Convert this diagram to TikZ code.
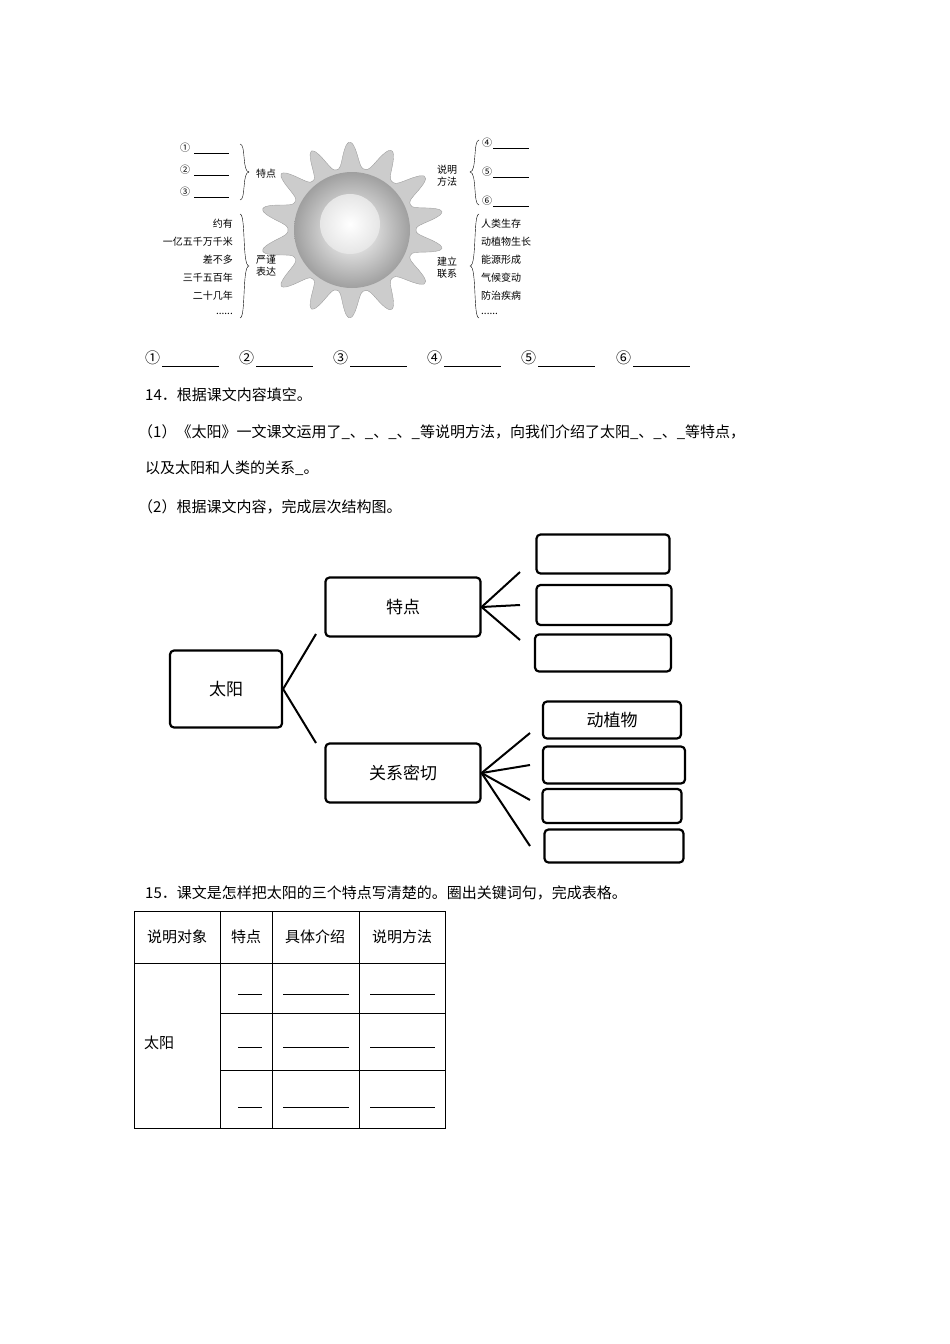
\documentclass[tikz,border=0pt]{standalone}
\usepackage{fontspec}
\setmainfont{Liberation Serif}
\newfontfamily\cjk{Noto Sans CJK SC}
\begin{document}
\begin{tikzpicture}[x=1pt,y=-1pt,
    small/.style={font=\cjk\fontsize{10}{12}\selectfont,inner sep=0pt},
    body/.style={font=\cjk\fontsize{15}{18}\selectfont,inner sep=0pt,anchor=west},
    box/.style={draw,line width=2.2pt,rounded corners=4pt,font=\cjk\fontsize{17}{20}\selectfont},
    blank/.style={line width=0.6pt},
    branch/.style={line width=2pt}]
    \useasboundingbox (0,0) rectangle (950,1344);

    % Sonne
    \fill[gray!40,draw=gray!75] plot[smooth cycle,samples=180,domain=0:358,variable=\t]
        ({352+(64+28*abs(sin(7*\t+10*sin(3*\t)))^3)*cos(\t)},{230+(62+26*abs(sin(7*\t+10*sin(3*\t)))^3)*sin(\t)});
    \shade[inner color=white,outer color=gray!75] (352,230) circle (58);
    \shade[inner color=white,outer color=white!80!gray] (350,224) circle (30);

    % links
    \foreach \n/\c/\y in {1/①/148,2/②/170,3/③/192}{
        \node[small,anchor=west] (c\n) at (180,\y) {\c};
        \draw[blank] (194,\y+5) -- (229,\y+5);}
    \draw (240,144) .. controls (246,144) and (242,172) .. (249,172) .. controls (242,172) and (246,200) .. (240,200);
    \node[small] (tedian) at (266,174) {特点};
    \foreach \t/\y in {约有/224,一亿五千万千米/242,差不多/260,三千五百年/278,二十几年/296,{......}/314}
        \node[small,anchor=east] at (233,\y) {\t};
    \draw (240,214) .. controls (246,214) and (242,266) .. (249,266) .. controls (242,266) and (246,318) .. (240,318);
    \node[small,align=center] (yanjin) at (266,266) {严谨\\表达};

    % rechts
    \node[small,align=center] (fangfa) at (447,176) {说明\\方法};
    \draw (479,140) .. controls (473,140) and (477,172) .. (470,172) .. controls (477,172) and (473,205) .. (479,205);
    \foreach \n/\c/\y in {4/④/143,5/⑤/172,6/⑥/201}{
        \node[small,anchor=west] (c\n) at (482,\y) {\c};
        \draw[blank] (493,\y+5) -- (529,\y+5);}
    \node[small,align=center] (lianxi) at (447,268) {建立\\联系};
    \draw (479,214) .. controls (473,214) and (477,266) .. (470,266) .. controls (477,266) and (473,318) .. (479,318);
    \foreach \t/\y in {人类生存/224,动植物生长/242,能源形成/260,气候变动/278,防治疾病/296,{......}/314}
        \node[small,anchor=west] at (481,\y) {\t};

    % Antworten
    \foreach \n/\c/\x in {1/①/145,2/②/239,3/③/333,4/④/427,5/⑤/521,6/⑥/616}{
        \node[body] (a\n) at (\x,358) {\c};
        \draw[blank] (\x+17,366) -- (\x+74,366);}

    % Aufgabe 14
    \node[body] (q14) at (145,395) {14．根据课文内容填空。};
    \node[body] (q14a) at (138,432) {（1）《太阳》一文课文运用了\_、\_、\_、\_等说明方法，向我们介绍了太阳\_、\_、\_等特点，};
    \node[body] (q14b) at (145,468) {以及太阳和人类的关系\_。};
    \node[body] (q14c) at (138,507) {（2）根据课文内容，完成层次结构图。};

    % Baum
    \node[box,minimum width=112pt,minimum height=77pt] (sun) at (226,689) {太阳};
    \node[box,minimum width=155pt,minimum height=59pt] (td) at (403,607) {特点};
    \node[box,minimum width=155pt,minimum height=59pt] (gx) at (403,773) {关系密切};
    \node[box,minimum width=133pt,minimum height=39pt] (t1) at (603,554) {};
    \node[box,minimum width=135pt,minimum height=40pt] (t2) at (604,605) {};
    \node[box,minimum width=136pt,minimum height=37pt] (t3) at (603,653) {};
    \node[box,minimum width=138pt,minimum height=37pt] (g1) at (612,720) {动植物};
    \node[box,minimum width=142pt,minimum height=37pt] (g2) at (614,765) {};
    \node[box,minimum width=139pt,minimum height=34pt] (g3) at (612,806) {};
    \node[box,minimum width=139pt,minimum height=33pt] (g4) at (614,846) {};
    \draw[branch] (sun.east) -- (316,634);
    \draw[branch] (sun.east) -- (316,743);
    \foreach \y in {572,605,640} \draw[branch] (td.east) -- (520,\y);
    \foreach \y in {733,765,800,846} \draw[branch] (gx.east) -- (530,\y);

    % Aufgabe 15
    \node[body] (q15) at (145,893) {15．课文是怎样把太阳的三个特点写清楚的。圈出关键词句，完成表格。};
    \draw[line width=0.7pt] (134,911) rectangle (445,1128);
    \draw[line width=0.7pt] (134,963) -- (445,963);
    \foreach \x in {220,272,359} \draw[line width=0.7pt] (\x,911) -- (\x,1128);
    \foreach \y in {1013,1070} \draw[line width=0.7pt] (220,\y) -- (445,\y);
    \foreach \t/\x in {说明对象/177,特点/246,具体介绍/315,说明方法/402}
        \node[body,anchor=center] at (\x,937) {\t};
    \node[body] (taiyang) at (144,1043) {太阳};
    \foreach \y in {994,1047,1107}{
        \draw[blank] (238,\y) -- (262,\y);
        \draw[blank] (283,\y) -- (349,\y);
        \draw[blank] (370,\y) -- (435,\y);}
\end{tikzpicture}
\end{document}
